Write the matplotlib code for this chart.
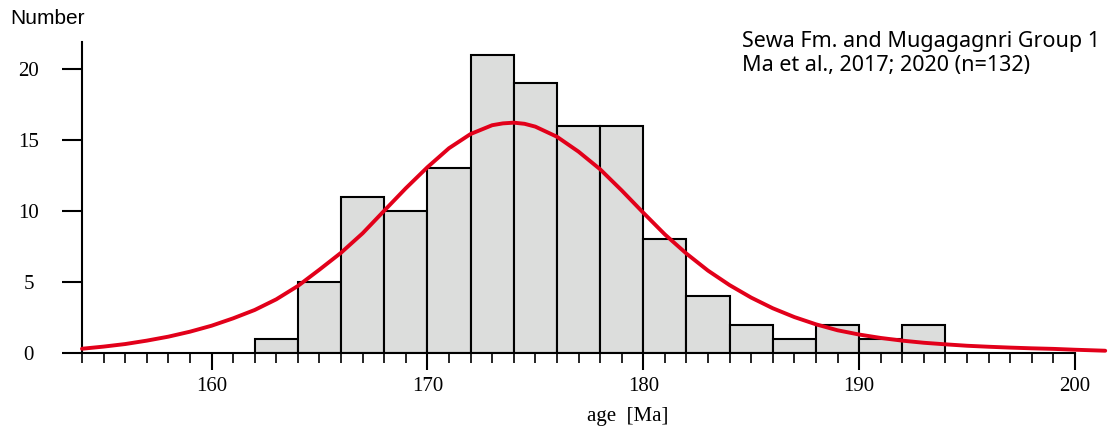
import matplotlib
matplotlib.use("Agg")
import matplotlib.pyplot as plt
import numpy as np

# zircon ages binned in 2 Ma steps
bin_edges = [162, 164, 166, 168, 170, 172, 174, 176, 178, 180,
             182, 184, 186, 188, 190, 192, 194]
counts = [1, 5, 11, 10, 13, 21, 19, 16, 16, 8, 4, 2, 1, 2, 1, 2]

# density curve, scaled to counts
curve_age = [154, 155, 156, 157, 158, 159, 160, 161, 162, 163, 164, 165,
             166, 167, 168, 169, 170, 171, 172, 173, 173.5, 174, 174.5,
             175, 176, 177, 178, 179, 180, 181, 182, 183, 184, 185, 186,
             187, 188, 189, 190, 191, 192, 193, 194, 195, 196, 197, 198,
             199, 200, 201.4]
curve_val = [0.30, 0.45, 0.63, 0.87, 1.15, 1.50, 1.92, 2.44, 3.03, 3.78,
             4.72, 5.87, 7.06, 8.43, 10.02, 11.60, 13.08, 14.42, 15.42,
             16.04, 16.17, 16.22, 16.14, 15.94, 15.23, 14.18, 12.94, 11.45,
             9.88, 8.35, 7.00, 5.80, 4.78, 3.90, 3.15, 2.53, 2.02, 1.60,
             1.30, 1.06, 0.87, 0.72, 0.61, 0.51, 0.44, 0.38, 0.33, 0.29,
             0.23, 0.16]

title_lines = ["Sewa Fm. and Mugagagnri Group 1", "Ma et al., 2017; 2020 (n=132)"]

W, H = 1111, 434
fig = plt.figure(figsize=(W / 100, H / 100), dpi=100)
ax = fig.add_axes([82 / W, 1 - 353 / H, (1075 - 82) / W, (353 - 42) / H])

lefts = np.array(bin_edges[:-1])
widths = np.diff(bin_edges)
ax.bar(lefts, counts, width=widths, align="edge", color="#dcdddc",
       edgecolor="black", linewidth=1.5, zorder=2)
ax.plot(curve_age, curve_val, color="#e2001a", lw=2.8,
        solid_capstyle="round", solid_joinstyle="round",
        clip_on=False, zorder=3)

ax.set_xlim(154, 200)
ax.set_ylim(0, 21.9)
for s in ["top", "right"]:
    ax.spines[s].set_visible(False)
for s in ["left", "bottom"]:
    ax.spines[s].set_linewidth(1.5)

ax.set_xticks([160, 170, 180, 190, 200])
ax.set_xticks(np.arange(154, 201, 1), minor=True)
ax.set_yticks([0, 5, 10, 15, 20])
ax.tick_params(axis="x", which="major", direction="out", length=12,
               width=1.5, pad=5)
ax.tick_params(axis="x", which="minor", direction="out", length=7.5,
               width=1.2)
ax.tick_params(axis="y", which="major", direction="out", length=14.4,
               width=1.5, pad=24)

serif = "Liberation Serif"
for lab in ax.get_xticklabels():
    lab.set_fontfamily(serif)
    lab.set_fontsize(15)
for lab in ax.get_yticklabels():
    lab.set_fontfamily(serif)
    lab.set_fontsize(15)
    lab.set_horizontalalignment("center")

fig.text(628 / W, 1 - 417 / H, "age  [Ma]", family=serif, fontsize=15,
         ha="center", va="center")
fig.text(10 / W, 1 - 18 / H, "Number", family="Liberation Sans",
         fontsize=15, ha="left", va="center")
fig.text(742 / W, 1 - 42 / H, title_lines[0], family="Noto Sans",
         fontsize=15.5, ha="left", va="center")
fig.text(742 / W, 1 - 65 / H, title_lines[1], family="Noto Sans",
         fontsize=15.5, ha="left", va="center")

fig.savefig("out.png", dpi=100)
